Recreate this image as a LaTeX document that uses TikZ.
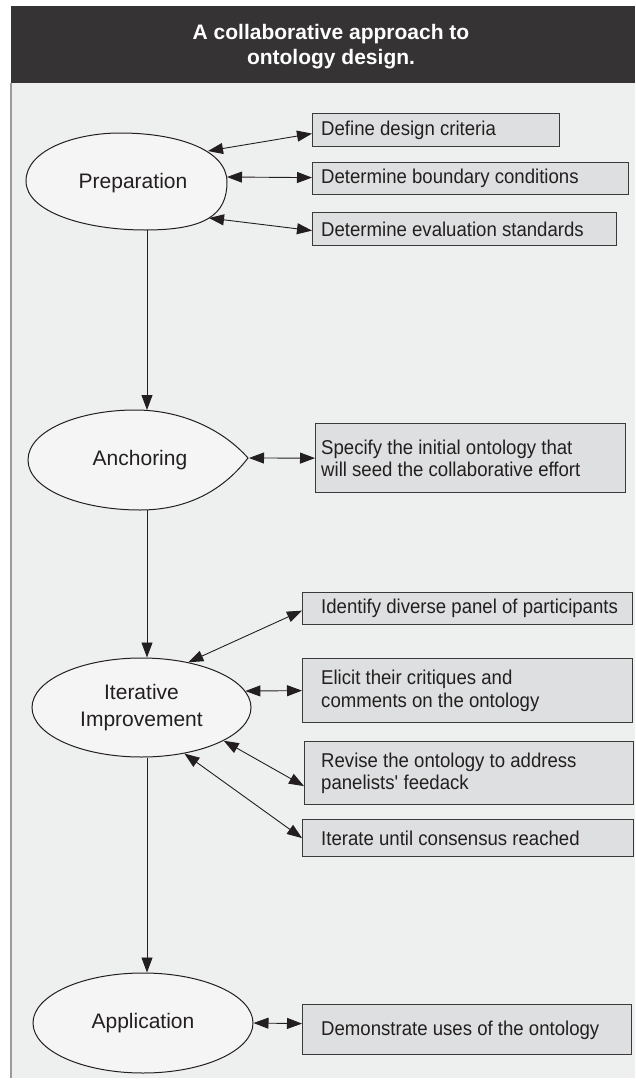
\documentclass[tikz,border=0pt]{standalone}
\usepackage{fontspec}
\setmainfont{Liberation Sans}
\newfontfamily\condfont{Liberation Sans}[FakeStretch=0.93]
\usetikzlibrary{arrows.meta,shapes.geometric}
\definecolor{barcol}{HTML}{353334}
\definecolor{panelcol}{HTML}{EEF0EF}
\definecolor{bordercol}{HTML}{9A9A9A}
\definecolor{boxfill}{HTML}{DEDFE0}
\definecolor{boxline}{HTML}{3A3A3A}
\definecolor{ellfill}{HTML}{F5F5F5}
\definecolor{linecol}{HTML}{231F20}
\tikzset{
  stage/.style={ellipse, draw=linecol, fill=ellfill, line width=1pt, inner sep=0pt,
    align=center, text=linecol, font=\fontsize{21}{27}\selectfont},
  stagetext/.style={inner sep=0pt, align=center, text=linecol, font=\fontsize{21}{27}\selectfont},
  stageshape/.style={draw=linecol, fill=ellfill, line width=1pt},
  taskbox/.style={rectangle, draw=boxline, fill=boxfill, line width=1.2pt, inner sep=0pt, anchor=north west},
  tasktext/.style={inner sep=0pt, anchor=west, align=left, text=linecol, font=\condfont\fontsize{20}{22.5}\selectfont},
  titletext/.style={inner sep=0pt, align=center, text=white, font=\bfseries\fontsize{21}{25}\selectfont},
  link/.style={{Triangle[length=15pt,width=11pt]}-{Triangle[length=15pt,width=11pt]}, line width=0.9pt, draw=linecol},
  flow/.style={-{Triangle[length=15pt,width=11pt]}, line width=0.9pt, draw=linecol}
}
\begin{document}
\begin{tikzpicture}[x=1pt,y=-1pt]
\useasboundingbox (0,0) rectangle (635,1082);
% background
\fill[white] (0,0) rectangle (635,1082);
\fill[barcol] (11,6) rectangle (635,83);
\fill[panelcol] (11,83) rectangle (635,1078);
\draw[bordercol, line width=1.2pt] (11,83) -- (11,1078);
\node[titletext] (title) at (331,46.5) {A collaborative approach to\\ontology design.};

% Preparation (egg shape)
\draw[stageshape] (26,181) .. controls (26,150) and (75,133) .. (120,133)
  .. controls (178,133) and (227,150) .. (227,182)
  .. controls (227,215) and (205,230) .. (145,230)
  .. controls (85,230) and (26,212) .. (26,181) -- cycle;
\node[stagetext] (prep) at (133,183) {Preparation};
\coordinate (prepS) at (147,230);
\coordinate (prepA) at (208,151);
\coordinate (prepB) at (227,177);
\coordinate (prepC) at (209,218);

% Anchoring (tear-drop shape)
\draw[stageshape] (28,460) .. controls (28,430) and (80,410) .. (135,410)
  .. controls (185,410) and (225,432) .. (248,458)
  .. controls (225,488) and (190,510) .. (140,510)
  .. controls (82,510) and (28,490) .. (28,460) -- cycle;
\node[stagetext] (anch) at (140,460) {Anchoring};
\coordinate (anchN) at (147,410);
\coordinate (anchS) at (147,510);
\coordinate (anchE) at (249,458);

% Iterative improvement and application
\node[stage, minimum width=219pt, minimum height=99pt] (iter) at (141.5,707.5) {Iterative\\Improvement};
\node[stage, minimum width=220pt, minimum height=100pt] (app) at (143,1023) {Application};

% task boxes
\coordinate (tx) at (321,0);
\node[taskbox, minimum width=247pt, minimum height=33pt] (b1) at (312,113) {};
\node[taskbox, minimum width=316pt, minimum height=32pt] (b2) at (312,162) {};
\node[taskbox, minimum width=304pt, minimum height=33pt] (b3) at (312,212) {};
\node[taskbox, minimum width=310pt, minimum height=69pt] (b4) at (315,423) {};
\node[taskbox, minimum width=330pt, minimum height=32pt] (b5) at (302,592) {};
\node[taskbox, minimum width=330pt, minimum height=64pt] (b6) at (302,658) {};
\node[taskbox, minimum width=329pt, minimum height=63pt] (b7) at (304,741) {};
\node[taskbox, minimum width=331pt, minimum height=37pt] (b8) at (302,819) {};
\node[taskbox, minimum width=329pt, minimum height=50pt] (b9) at (302,1004) {};

\node[tasktext] (t1) at (b1.west -| tx) {Define design criteria};
\node[tasktext] (t2) at (b2.west -| tx) {Determine boundary conditions};
\node[tasktext] (t3) at (b3.west -| tx) {Determine evaluation standards};
\node[tasktext] (t4) at (b4.west -| tx) {Specify the initial ontology that\\will seed the collaborative effort};
\node[tasktext] (t5) at (b5.west -| tx) {Identify diverse panel of participants};
\node[tasktext] (t6) at (b6.west -| tx) {Elicit their critiques and\\comments on the ontology};
\node[tasktext] (t7) at (b7.west -| tx) {Revise the ontology to address\\panelists\textquotesingle{} feedack};
\node[tasktext] (t8) at (b8.west -| tx) {Iterate until consensus reached};
\node[tasktext] (t9) at ([yshift=-1pt]b9.west -| tx) {Demonstrate uses of the ontology};

% flow arrows
\draw[flow] (prepS) -- (anchN);
\draw[flow] (anchS) -- (anchS |- iter.north);
\draw[flow] (anchS |- iter.south) -- (anchS |- app.north);

% links
\draw[link] (prepA) -- ([yshift=-3.5pt]b1.west);
\draw[link] (prepB) -- ([yshift=1pt]b2.west);
\draw[link] (prepC) -- ([yshift=-1.5pt]b3.west);
\draw[link] (anchE) -- (b4.west);
\draw[link] (iter.44) -- ([yshift=-2pt]b5.west);
\draw[link] (iter.9) -- (b6.west);
\draw[link] (iter.-22) -- ([yshift=-13pt]b7.west);
\draw[link] (iter.-47) -- (b8.west);
\draw[link] (app.east) -- ([yshift=6pt]b9.west);
\end{tikzpicture}
\end{document}
